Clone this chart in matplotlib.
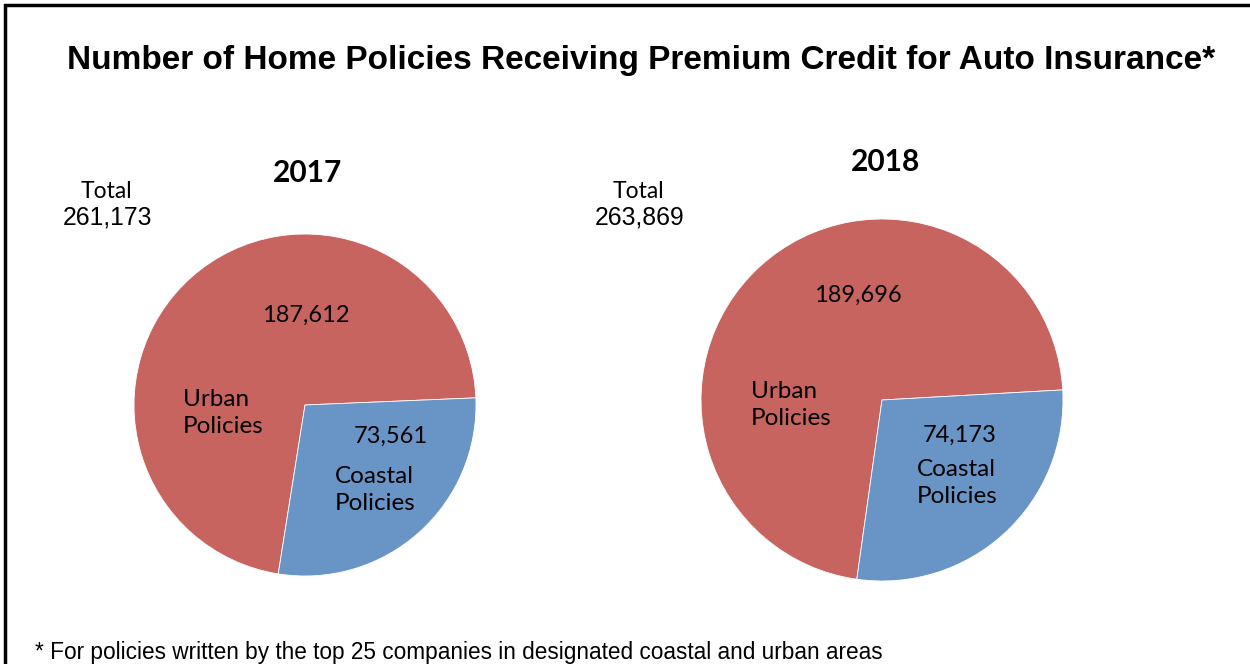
import matplotlib
matplotlib.use("Agg")
import matplotlib.pyplot as plt
from matplotlib.patches import Rectangle

# data
years = ["2017", "2018"]
urban = [187612, 189696]
coastal = [73561, 74173]
totals = [261173, 263869]

RED = "#C8645F"
BLUE = "#6894C6"
H = 664

fig = plt.figure(figsize=(12.5, 6.64), dpi=100)
ax = fig.add_axes([0, 0, 1, 1])

# pie placement in pixel space (x right, y up)
centers = [(305, H - 405), (882, H - 400)]
radii = [171, 181]
starts = [261, 262]

for i in range(len(years)):
    ax.pie([urban[i], coastal[i]], colors=[RED, BLUE], center=centers[i],
           radius=radii[i], startangle=starts[i], counterclock=False,
           frame=True, wedgeprops=dict(edgecolor="white", linewidth=0.6))

ax.set_xlim(0, 1250)
ax.set_ylim(0, H)
ax.set_aspect("equal")
ax.axis("off")

# outer frame
ax.add_patch(Rectangle((5, -10), 1260, H - 5 + 10, fill=False, edgecolor="black", linewidth=2.5))

title_font = "Liberation Sans"
label_font = "Lato"

ax.text(641, H - 60, "Number of Home Policies Receiving Premium Credit for Auto Insurance*",
        ha="center", va="center", fontsize=24, fontweight="bold", family=title_font)

year_pos = [(307, H - 173), (886, H - 162)]
total_pos = [(106, H - 192), (638, H - 192)]
urban_val_pos = [(306, H - 315), (858, H - 295)]
urban_lbl_pos = [(183, H - 413), (751, H - 405)]
coast_val_pos = [(391, H - 436), (960, H - 435)]
coast_lbl_pos = [(335, H - 490), (917, H - 483)]

for i in range(len(years)):
    ax.text(*year_pos[i], years[i], ha="center", va="center", fontsize=21.5,
            fontweight="bold", family=label_font)
    ax.text(*total_pos[i], "Total", ha="center", va="center", fontsize=16.5, family=label_font)
    ax.text(total_pos[i][0] + 2, total_pos[i][1] - 25, f"{totals[i]:,}", ha="center", va="center",
            fontsize=17.8, family=title_font)
    ax.text(*urban_val_pos[i], f"{urban[i]:,}", ha="center", va="center", fontsize=17, family=label_font)
    ax.text(*urban_lbl_pos[i], "Urban\nPolicies", ha="left", va="center", fontsize=17.5,
            family=label_font, linespacing=1.4)
    ax.text(*coast_val_pos[i], f"{coastal[i]:,}", ha="center", va="center", fontsize=17, family=label_font)
    ax.text(*coast_lbl_pos[i], "Coastal\nPolicies", ha="left", va="center", fontsize=17.5,
            family=label_font, linespacing=1.4)

ax.text(35, H - 652, "* For policies written by the top 25 companies in designated coastal and urban areas",
        ha="left", va="center", fontsize=16.3, family=title_font)

fig.savefig("out.png", dpi=100)
